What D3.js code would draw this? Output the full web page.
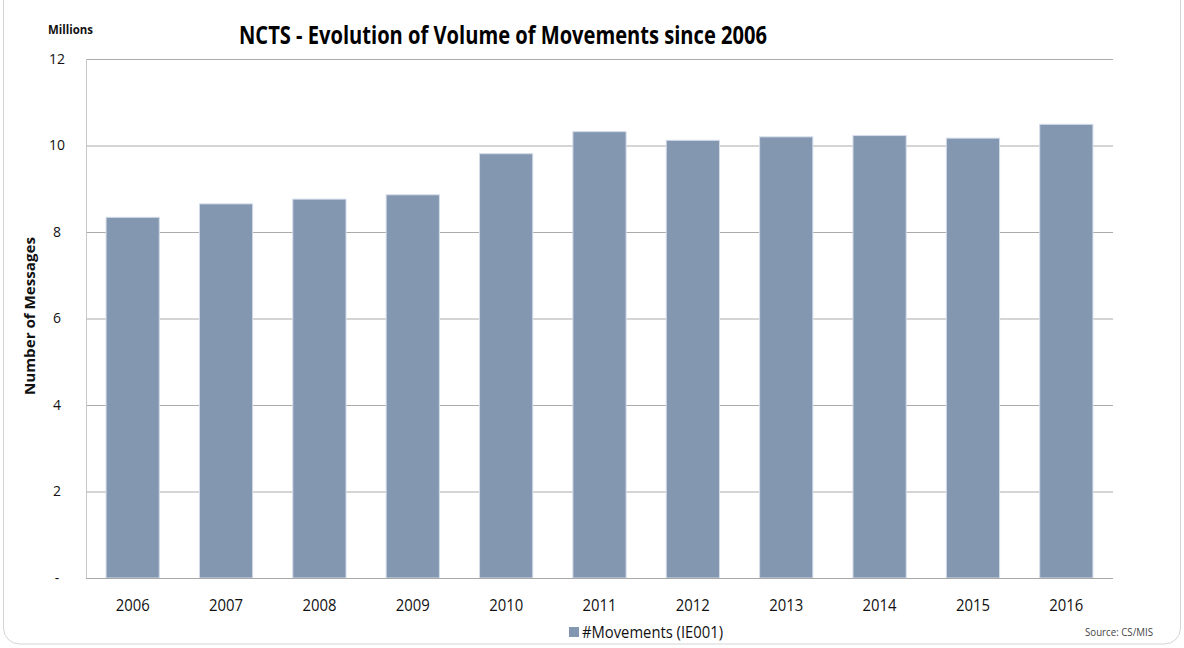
<!DOCTYPE html>
<html><head><meta charset="utf-8">
<script src="https://cdn.jsdelivr.net/npm/d3@7"></script>
<style>
html,body{margin:0;padding:0;background:#fff;}
svg{display:block;}
text{font-family:"Open Sans",Arial,sans-serif;}
</style></head>
<body>
<svg id="chart" width="1184" height="648"></svg>
<script>
const categories = ["2006","2007","2008","2009","2010","2011","2012","2013","2014","2015","2016"];
const movements = [8.34, 8.65, 8.76, 8.86, 9.81, 10.32, 10.12, 10.20, 10.23, 10.17, 10.49];
const yTicks = [0, 2, 4, 6, 8, 10, 12];
const yTickLabels = ["-", "2", "4", "6", "8", "10", "12"];
const seriesName = "#Movements (IE001)";

const svg = d3.select("#chart");
const W = 1184, H = 648;
const m = {left: 86, right: 1113, top: 59, bottom: 578};

// card border
svg.append("rect").attr("x", 3.5).attr("y", -20).attr("width", W - 7).attr("height", H - 2 + 20 - 2)
  .attr("rx", 16).attr("fill", "#fff").attr("stroke", "#d4d4d4").attr("stroke-width", 1);

const x = d3.scaleBand().domain(categories).range([m.left, m.right]).paddingInner(0.43).paddingOuter(0.215);
const y = d3.scaleLinear().domain([0, 12]).range([m.bottom, m.top]);

// gridlines
const grid = svg.append("g").attr("transform", `translate(${m.left},0)`)
  .call(d3.axisLeft(y).tickValues(yTicks).tickSize(-(m.right - m.left)).tickFormat(""));
grid.select(".domain").remove();
grid.selectAll("line").attr("stroke", "#ababab").attr("stroke-width", 1);

// left axis line
svg.append("line").attr("x1", m.left + 0.5).attr("x2", m.left + 0.5).attr("y1", m.top).attr("y2", m.bottom)
  .attr("stroke", "#c8c8c8");

// bars
svg.append("g").selectAll("rect").data(categories).join("rect")
  .attr("x", d => x(d))
  .attr("y", (d, i) => y(movements[i]))
  .attr("width", x.bandwidth())
  .attr("height", (d, i) => y(0) - y(movements[i]))
  .attr("fill", "#8497b0")
  .attr("stroke", "#d3dcea").attr("stroke-width", 1);

// bottom axis line
svg.append("line").attr("x1", m.left).attr("x2", m.right).attr("y1", m.bottom + 0.5).attr("y2", m.bottom + 0.5)
  .attr("stroke", "#a8a8a8");

// y tick labels
const yAx = svg.append("g").attr("transform", `translate(57,0)`)
  .call(d3.axisLeft(y).tickValues(yTicks).tickSize(0).tickPadding(0).tickFormat((d, i) => yTickLabels[i]));
yAx.select(".domain").remove();
yAx.selectAll("text").attr("text-anchor", "middle").attr("font-size", 14).attr("fill", "#111")
  .style("font-family", '"Open Sans",Arial,sans-serif');

// x tick labels
const xAx = svg.append("g").attr("transform", `translate(0,${m.bottom})`)
  .call(d3.axisBottom(x).tickSize(0).tickPadding(22));
xAx.select(".domain").remove();
xAx.selectAll("text").attr("font-size", 16).attr("fill", "#111")
  .attr("textLength", 34).attr("lengthAdjust", "spacingAndGlyphs")
  .style("font-family", '"Open Sans",Arial,sans-serif');

// title
svg.append("text").attr("x", 503).attr("y", 44).attr("text-anchor", "middle")
  .attr("font-size", 25).attr("font-weight", "bold").attr("fill", "#000")
  .attr("textLength", 528).attr("lengthAdjust", "spacingAndGlyphs")
  .text("NCTS - Evolution of Volume of Movements since 2006");

// Millions
svg.append("text").attr("x", 48).attr("y", 34).attr("font-size", 13).attr("font-weight", "bold")
  .attr("fill", "#111").attr("textLength", 45).attr("lengthAdjust", "spacingAndGlyphs").text("Millions");

// y axis title
svg.append("text").attr("transform", "translate(35,316) rotate(-90)").attr("text-anchor", "middle")
  .attr("font-size", 15).attr("font-weight", "bold").attr("fill", "#111")
  .attr("textLength", 158).attr("lengthAdjust", "spacingAndGlyphs")
  .text("Number of Messages");

// legend
svg.append("rect").attr("x", 569).attr("y", 627).attr("width", 10).attr("height", 10).attr("fill", "#8497b0");
svg.append("text").attr("x", 582).attr("y", 638).attr("font-size", 16).attr("fill", "#111")
  .attr("textLength", 141).attr("lengthAdjust", "spacingAndGlyphs").text(seriesName);

// source
svg.append("text").attr("x", 1085).attr("y", 636).attr("font-size", 10.5)
  .attr("fill", "#444").attr("textLength", 68).attr("lengthAdjust", "spacingAndGlyphs").text("Source: CS/MIS");
</script>
</body></html>
